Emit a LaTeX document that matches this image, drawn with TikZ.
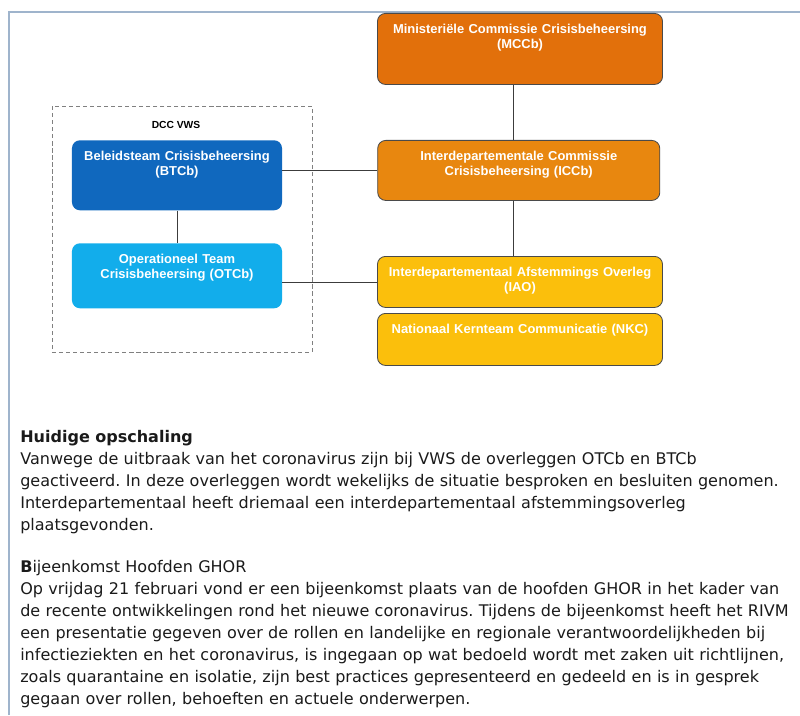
\documentclass[tikz,border=0pt]{standalone}
\usepackage{fontspec}
\setmainfont{Liberation Sans}
\newfontfamily\bodyfont{DejaVu Sans}
\definecolor{mccbcol}{HTML}{E2700B}
\definecolor{iccbcol}{HTML}{E8870F}
\definecolor{iaocol}{HTML}{FBBF0C}
\definecolor{btcbcol}{HTML}{1068BE}
\definecolor{otcbcol}{HTML}{12ADEB}
\definecolor{boxline}{HTML}{4A4A4A}
\definecolor{linegray}{HTML}{3C3C3C}
\definecolor{framecol}{HTML}{9FB4CC}
\definecolor{bodyblack}{HTML}{1A1A1A}

\begin{document}
\begin{tikzpicture}[x=0.025cm, y=-0.025cm,
  box/.style={rounded corners=0.2cm, text=white, anchor=north, align=center,
    font=\fontsize{9.2}{11}\selectfont\bfseries,
    inner xsep=0pt, inner ysep=0pt, text height=0.5cm},
  orangebox/.style={box, draw=boxline, line width=0.6pt},
  bluebox/.style={box},
  link/.style={draw=linegray, line width=0.6pt},
  bodytext/.style={anchor=base west, text width=19.4cm, align=left, inner sep=0pt,
    text=bodyblack, font=\bodyfont\fontsize{11.4}{15.65}\selectfont\frenchspacing}]
  \useasboundingbox (0,0) rectangle (800,715);
  \draw[framecol, line width=0.8pt] (9,715) -- (9,12) -- (800,12);

  % crisis structure
  \node[orangebox, fill=mccbcol, text width=7.125cm, text depth=1.275cm] (mccb) at (520,13)
    {Ministeriële Commissie Crisisbeheersing\\(MCCb)};
  \node[orangebox, fill=iccbcol, text width=7.05cm, text depth=1cm] (iccb) at (518.75,140)
    {Interdepartementale Commissie\\Crisisbeheersing (ICCb)};
  \node[orangebox, fill=iaocol, text width=7.125cm, text depth=0.775cm] (iao) at (520,256)
    {Interdepartementaal Afstemmings Overleg\\(IAO)};
  \node[orangebox, fill=iaocol, text width=7.125cm, text depth=0.8cm] (nkc) at (520,313)
    {Nationaal Kernteam Communicatie (NKC)};

  \node[draw=gray, dash pattern=on 3pt off 2pt, line width=0.6pt,
    minimum width=6.5cm, minimum height=6.15cm] (dcc) at (182,229) {};
  \node[font=\fontsize{7.3}{9}\selectfont\bfseries] (dcclabel) at (176,125) {DCC VWS};
  \node[bluebox, fill=btcbcol, text width=5.25cm, text depth=1.25cm] (btcb) at (177,140)
    {Beleidsteam Crisisbeheersing\\(BTCb)};
  \node[bluebox, fill=otcbcol, text width=5.25cm, text depth=1.125cm] (otcb) at (177,243)
    {Operationeel Team\\Crisisbeheersing (OTCb)};

  \coordinate (spine) at (513,0);
  \draw[link] (mccb.south -| spine) -- (iccb.north -| spine);
  \draw[link] (iccb.south -| spine) -- (iao.north -| spine);
  \draw[link] (btcb.south) -- (otcb.north);
  \draw[link] (iccb.west) -- (iccb.west -| btcb.east);
  \draw[link] (iao.west) -- (iao.west -| otcb.east);

  % text below
  \node[bodytext] (huidige) at (20,442) {\textbf{Huidige opschaling}\\
    Vanwege de uitbraak van het coronavirus zijn bij VWS de overleggen OTCb en BTCb\\
    geactiveerd. In deze overleggen wordt wekelijks de situatie besproken en besluiten genomen.\\
    Interdepartementaal heeft driemaal een interdepartementaal afstemmingsoverleg\\
    plaatsgevonden.};
  \node[bodytext] (ghor) at (20,572) {\textbf{B}ijeenkomst Hoofden GHOR\\
    Op vrijdag 21 februari vond er een bijeenkomst plaats van de hoofden GHOR in het kader van\\
    de recente ontwikkelingen rond het nieuwe coronavirus. Tijdens de bijeenkomst heeft het RIVM\\
    een presentatie gegeven over de rollen en landelijke en regionale verantwoordelijkheden bij\\
    infectieziekten en het coronavirus, is ingegaan op wat bedoeld wordt met zaken uit richtlijnen,\\
    zoals quarantaine en isolatie, zijn best practices gepresenteerd en gedeeld en is in gesprek\\
    gegaan over rollen, behoeften en actuele onderwerpen.};
\end{tikzpicture}
\end{document}
